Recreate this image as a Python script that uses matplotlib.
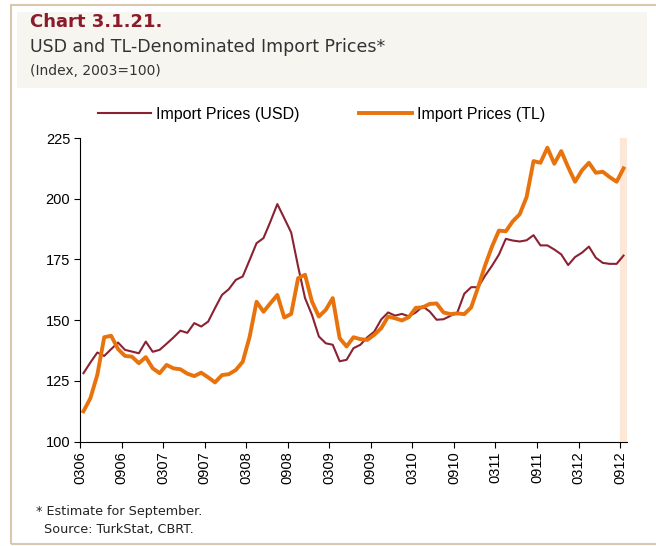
import numpy as np
import matplotlib
matplotlib.use("Agg")
import matplotlib.pyplot as plt
from matplotlib.patches import Rectangle

# monthly, Mar 2006 .. Sep 2012 (last value an estimate)
usd = [128.2, 132.6, 136.7, 135.3, 138.1, 140.8, 137.8, 137.1, 136.4, 141.2,
       137.0, 137.8, 140.3, 142.9, 145.7, 144.8, 148.8, 147.4, 149.4, 155.0,
       160.4, 162.8, 166.6, 168.0, 174.8, 181.7, 183.8, 190.6, 197.8, 192.0,
       186.1, 172.1, 159.1, 152.2, 143.3, 140.5, 139.9, 133.1, 133.7, 138.5,
       139.9, 143.0, 145.3, 150.3, 153.2, 151.9, 152.6, 151.6, 153.2, 155.7,
       153.6, 150.2, 150.4, 151.8, 153.2, 160.9, 163.6, 163.6, 168.3, 172.4,
       177.0, 183.5, 182.8, 182.4, 182.9, 185.0, 180.8, 180.8, 179.1, 177.1,
       172.7, 176.0, 177.8, 180.3, 175.7, 173.6, 173.2, 173.2, 176.6]
tl = [112.5, 117.9, 127.5, 143.0, 143.6, 138.1, 135.3, 135.0, 132.3, 134.8,
      130.2, 128.2, 131.6, 130.2, 129.8, 128.0, 127.0, 128.4, 126.5, 124.4,
      127.4, 127.8, 129.5, 132.9, 143.2, 157.6, 153.5, 157.0, 160.4, 151.1,
      152.6, 167.3, 168.7, 157.7, 151.5, 154.3, 159.1, 142.6, 139.2, 143.0,
      142.2, 141.9, 144.0, 146.7, 151.5, 150.8, 149.9, 151.3, 155.1, 155.3,
      156.7, 156.9, 153.2, 152.5, 152.8, 152.5, 155.3, 163.6, 172.5, 180.3,
      186.9, 186.6, 190.7, 193.6, 200.7, 215.5, 214.8, 221.0, 214.4, 219.6,
      213.0, 207.0, 211.7, 214.8, 210.7, 211.1, 208.9, 207.0, 212.5]
tick_labels = ["0306", "0906", "0307", "0907", "0308", "0908", "0309",
               "0909", "0310", "0910", "0311", "0911", "0312", "0912"]

dark_red = "#8B2232"
orange = "#E8730C"

fig = plt.figure(figsize=(6.56, 5.46), dpi=100)

# frame (open on the right) and header box
fig.patches.append(Rectangle((11 / 656, 2 / 546), 700 / 656, 539 / 546, transform=fig.transFigure,
                             fill=False, edgecolor="#D8C9AD", linewidth=1.5))
fig.patches.append(Rectangle((17 / 656, 1 - 88 / 546), 630 / 656, 76 / 546, transform=fig.transFigure,
                             facecolor="#F6F5F0", edgecolor="none"))
fig.text(30 / 656, 1 - 22 / 546, "Chart 3.1.21.", color="#8B1A2B", fontsize=13,
         fontweight="bold", va="center", family="DejaVu Sans")
fig.text(30 / 656, 1 - 47 / 546, "USD and TL-Denominated Import Prices*", color="#333333",
         fontsize=12.5, va="center", family="DejaVu Sans")
fig.text(30 / 656, 1 - 71 / 546, "(Index, 2003=100)", color="#333333",
         fontsize=10, va="center", family="DejaVu Sans")

ax = fig.add_axes([80 / 656, 1 - 441.7 / 546, 547 / 656, 303.7 / 546])
x = np.arange(len(usd)) + 0.5
ax.axvspan(78, 79, color="#FDE8D8", zorder=0)
ax.plot(x, usd, color=dark_red, lw=1.5, label="Import Prices (USD)")
ax.plot(x, tl, color=orange, lw=2.8, label="Import Prices (TL)")

ax.set_xlim(0, 79)
ax.set_ylim(100, 225)
ax.set_yticks([100, 125, 150, 175, 200, 225])
ax.set_xticks(np.arange(0, 79, 6))
ax.set_xticklabels(tick_labels, rotation=90, family="Liberation Sans", fontsize=10.5)
for lab in ax.get_yticklabels():
    lab.set_family("Liberation Sans")
    lab.set_fontsize(10.5)
ax.tick_params(direction="out", length=4, width=0.8, color="black", pad=3)
for s in ["top", "right"]:
    ax.spines[s].set_visible(False)
for s in ["left", "bottom"]:
    ax.spines[s].set_linewidth(0.8)

leg = fig.legend(loc="center left", bbox_to_anchor=(84 / 656, 1 - 114 / 546), ncol=2,
                 frameon=False, prop={"family": "Liberation Sans", "size": 11.5},
                 handlelength=3.3, columnspacing=3.75, handletextpad=0.3)

fig.text(36 / 656, 1 - 512 / 546, "* Estimate for September.", fontsize=9.2,
         va="center", family="DejaVu Sans", color="#222222")
fig.text(44 / 656, 1 - 530 / 546, "Source: TurkStat, CBRT.", fontsize=9.2,
         va="center", family="DejaVu Sans", color="#222222")

fig.savefig("out.png", dpi=100)
